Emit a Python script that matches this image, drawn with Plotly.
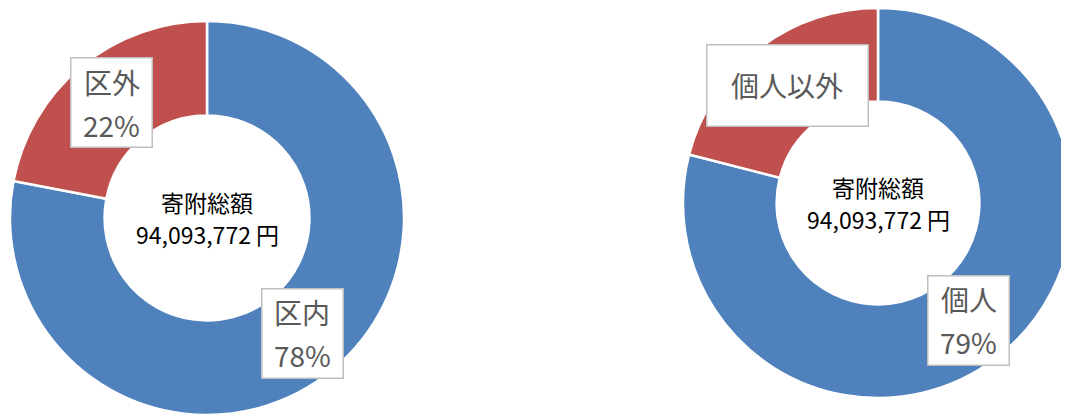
import math
import plotly.graph_objects as go

W, H = 1069, 417
OFF = 8  # page body margin: figure pixel = page pixel - OFF

# ---- data ----
total_title = "寄附総額"
total_amount = "94,093,772 円"
left_labels = ["区内", "区外"]
left_values = [78, 22]
left_show_pct = [True, True]
right_labels = ["個人", "個人以外"]
right_values = [79, 21]
right_show_pct = [True, False]

colors = ["#4F81BD", "#C0504D"]
HOLE = 0.52

# donut geometry in figure pixels: center x, center y, radius
left_geom = dict(cx=199, cy=210, r=197)
right_geom = dict(cx=870, cy=195, r=195)


def domain(g):
    return dict(x=[(g["cx"] - g["r"]) / W, min(1.0, (g["cx"] + g["r"]) / W)],
                y=[max(0.0, 1 - (g["cy"] + g["r"]) / H), min(1.0, 1 - (g["cy"] - g["r"]) / H)])


fig = go.Figure()
annotations = []
LABEL_FONT = dict(family="Noto Sans CJK JP", size=28, color="#595959")
CENTER_FONT = dict(family="Noto Sans CJK JP", size=23, color="#000000")


def add_donut(labels, values, show_pct, g):
    fig.add_trace(go.Pie(
        labels=labels, values=values, hole=HOLE, sort=False,
        direction="clockwise", rotation=0,
        marker=dict(colors=colors, line=dict(color="white", width=2.5)),
        textinfo="none", hoverinfo="skip", showlegend=False,
        domain=domain(g),
    ))
    # center text
    for t, dy in [(total_title, -16), (total_amount, 16)]:
        annotations.append(dict(
            x=g["cx"] / W, y=1 - (g["cy"] + dy) / H, xref="paper", yref="paper",
            xanchor="center", yanchor="middle", showarrow=False,
            text=t, font=CENTER_FONT,
        ))
    R = g["r"]
    rl = (1 + HOLE) / 2 * R
    tot = sum(values)
    cum = 0
    for lab, v, sp in zip(labels, values, show_pct):
        mid = (cum + v / 2) / tot * 2 * math.pi
        cum += v
        px = g["cx"] + rl * math.sin(mid)
        py = g["cy"] - rl * math.cos(mid)
        pct = round(v / tot * 100)
        if sp:
            bw, bh = 80, 88
        else:
            bw, bh = 160, 80
        # box
        annotations.append(dict(
            x=px / W, y=1 - py / H, xref="paper", yref="paper",
            xanchor="center", yanchor="middle", showarrow=False,
            text="", width=bw, height=bh,
            bgcolor="white", bordercolor="#BFBFBF", borderwidth=1.5, borderpad=0,
        ))
        if sp:
            lines = [(lab, -21), (f"{pct}%", 22)]
        else:
            lines = [(lab, -1)]
        for t, dy in lines:
            annotations.append(dict(
                x=px / W, y=1 - (py + dy) / H, xref="paper", yref="paper",
                xanchor="center", yanchor="middle", showarrow=False,
                text=t, font=LABEL_FONT,
            ))


add_donut(left_labels, left_values, left_show_pct, left_geom)
add_donut(right_labels, right_values, right_show_pct, right_geom)

fig.update_layout(
    width=W, height=H,
    margin=dict(l=0, r=0, t=0, b=0),
    paper_bgcolor="white", plot_bgcolor="white",
    annotations=annotations,
)

fig.write_html("out.html")
